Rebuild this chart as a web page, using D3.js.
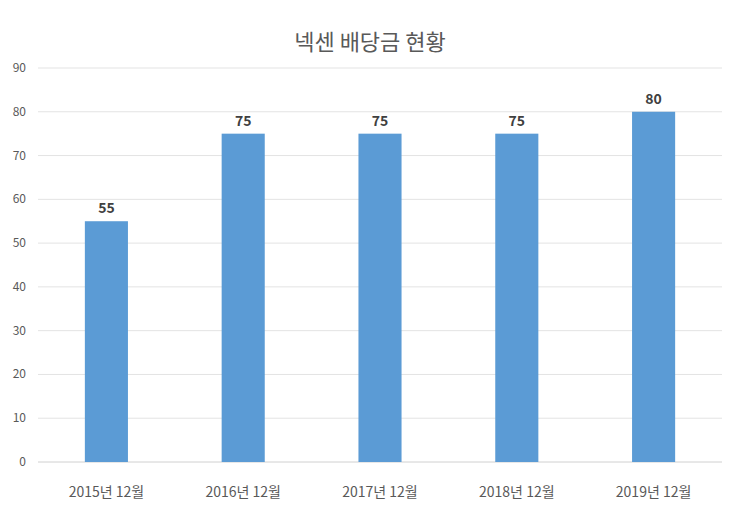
<!DOCTYPE html>
<html><head><meta charset="utf-8">
<script src="https://cdn.jsdelivr.net/npm/d3@7"></script>
<style>body{margin:0;background:#fff}</style></head>
<body><svg id="c" width="740" height="516"></svg>
<script>
const categories = ["2015년 12월","2016년 12월","2017년 12월","2018년 12월","2019년 12월"];
const values = [55,75,75,75,80];
const yTicks = [0,10,20,30,40,50,60,70,80,90];
const title = "넥센 배당금 현황";

const svg = d3.select("#c");
const font = "'Noto Sans CJK KR', 'Malgun Gothic', sans-serif";
const m = {l:38, r:722, t:68, b:462};
const x = d3.scaleBand().domain(categories).range([m.l, m.r]).paddingInner(0.685).paddingOuter(0.3425);
const y = d3.scaleLinear().domain([0,90]).range([m.b, m.t]);

svg.append("g").selectAll("line").data(yTicks).join("line")
  .attr("x1", m.l).attr("x2", m.r).attr("y1", d=>y(d)).attr("y2", d=>y(d))
  .attr("stroke", d=>d===0?"#d0d0d0":"#e3e3e3").attr("stroke-width",1);
svg.append("g").selectAll("text").data(yTicks).join("text")
  .attr("x", 26).attr("y", d=>y(d)+4).attr("text-anchor","end")
  .attr("font-family", font).attr("font-size", 12).attr("fill","#595959").text(d=>d);

svg.append("g").selectAll("rect").data(values).join("rect")
  .attr("x",(d,i)=>x(categories[i])).attr("width",x.bandwidth())
  .attr("y",d=>y(d)).attr("height",d=>y(0)-y(d)).attr("fill","#5b9bd5");
svg.append("g").selectAll("text").data(values).join("text")
  .attr("x",(d,i)=>x(categories[i])+x.bandwidth()/2).attr("y",d=>y(d)-8)
  .attr("text-anchor","middle").attr("font-family",font).attr("font-size",14)
  .attr("font-weight","bold").attr("fill","#404040").text(d=>d);

svg.append("g").selectAll("text").data(categories).join("text")
  .attr("x",d=>x(d)+x.bandwidth()/2).attr("y",497).attr("text-anchor","middle")
  .attr("font-family",font).attr("font-size",14).attr("fill","#595959").text(d=>d);

svg.append("text").attr("x",370).attr("y",50).attr("text-anchor","middle")
  .attr("font-family",font).attr("font-size",22).attr("fill","#595959").text(title);
</script></body></html>
